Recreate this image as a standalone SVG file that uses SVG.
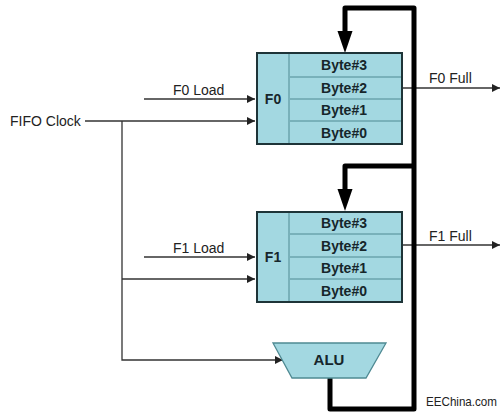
<svg xmlns="http://www.w3.org/2000/svg" width="504" height="415" viewBox="0 0 504 415">
<defs>
<marker id="arr" viewBox="0 0 10 10" refX="10" refY="5" markerWidth="8" markerHeight="8" markerUnits="userSpaceOnUse" orient="auto"><path d="M0,0 L10,5 L0,10 z" fill="#222"/></marker>
</defs>
<style>
.box{fill:#a3d8e1;stroke:#1e3438;stroke-width:2}
.div{stroke:#4f8a93;stroke-width:1;fill:none}
.ln{stroke:#333;stroke-width:1.3;fill:none}
.bus{stroke:#000;stroke-width:5;fill:none;stroke-linejoin:round}
.b{font-family:"Liberation Sans",Arial,sans-serif;font-weight:bold;font-size:14px;fill:#16262b;text-anchor:middle}
.t{font-family:"Liberation Sans",Arial,sans-serif;font-size:14px;fill:#222}
</style>
<rect width="504" height="415" fill="#fff"/>
<g id="connectors">
<path class="ln" d="M85,121 H255" marker-end="url(#arr)"/>
<path class="ln" d="M144,99 H255" marker-end="url(#arr)"/>
<path class="ln" d="M122,121 V360 H283" marker-end="url(#arr)"/>
<path class="ln" d="M144,257 H255" marker-end="url(#arr)"/>
<path class="ln" d="M122,279 H255" marker-end="url(#arr)"/>
<path class="ln" d="M402,88 H500" marker-end="url(#arr)"/>
<path class="ln" d="M402,245 H500" marker-end="url(#arr)"/>
<path class="bus" d="M330,378 V409 H414 V8 H345 V32"/>
<path d="M337.5,31 H352.5 L345,53 z" fill="#000"/>
<path class="bus" d="M414,166 H345 V190"/>
<path d="M337.5,189 H352.5 L345,211 z" fill="#000"/>
</g>
<g id="F0">
<rect class="box" x="257" y="53" width="145" height="91"/>
<path class="div" d="M289,54 V143 M290,77 H401 M290,99 H401 M290,121 H401"/>
<text class="b" x="273" y="104">F0</text>
<text class="b" x="344" y="70">Byte#3</text>
<text class="b" x="344" y="93">Byte#2</text>
<text class="b" x="344" y="115">Byte#1</text>
<text class="b" x="344" y="138">Byte#0</text>
</g>
<g id="F1">
<rect class="box" x="257" y="212" width="145" height="90"/>
<path class="div" d="M289,213 V301 M290,234 H401 M290,257 H401 M290,279 H401"/>
<text class="b" x="273" y="262">F1</text>
<text class="b" x="344" y="228">Byte#3</text>
<text class="b" x="344" y="251">Byte#2</text>
<text class="b" x="344" y="273">Byte#1</text>
<text class="b" x="344" y="296">Byte#0</text>
</g>
<g id="ALU">
<path class="box" style="stroke-width:1.3;stroke:#4f8a93" d="M273,343 H386 L366,378 H292 z"/>
<text class="b" x="329" y="365" style="font-size:15px">ALU</text>
</g>
<g id="labels">
<text class="t" x="10" y="126">FIFO Clock</text>
<text class="t" x="173" y="95">F0 Load</text>
<text class="t" x="173" y="253">F1 Load</text>
<text class="t" x="429" y="83">F0 Full</text>
<text class="t" x="429" y="241">F1 Full</text>
<text class="t" x="426" y="406" style="font-size:13px" textLength="71" lengthAdjust="spacingAndGlyphs">EEChina.com</text>
</g>
</svg>
